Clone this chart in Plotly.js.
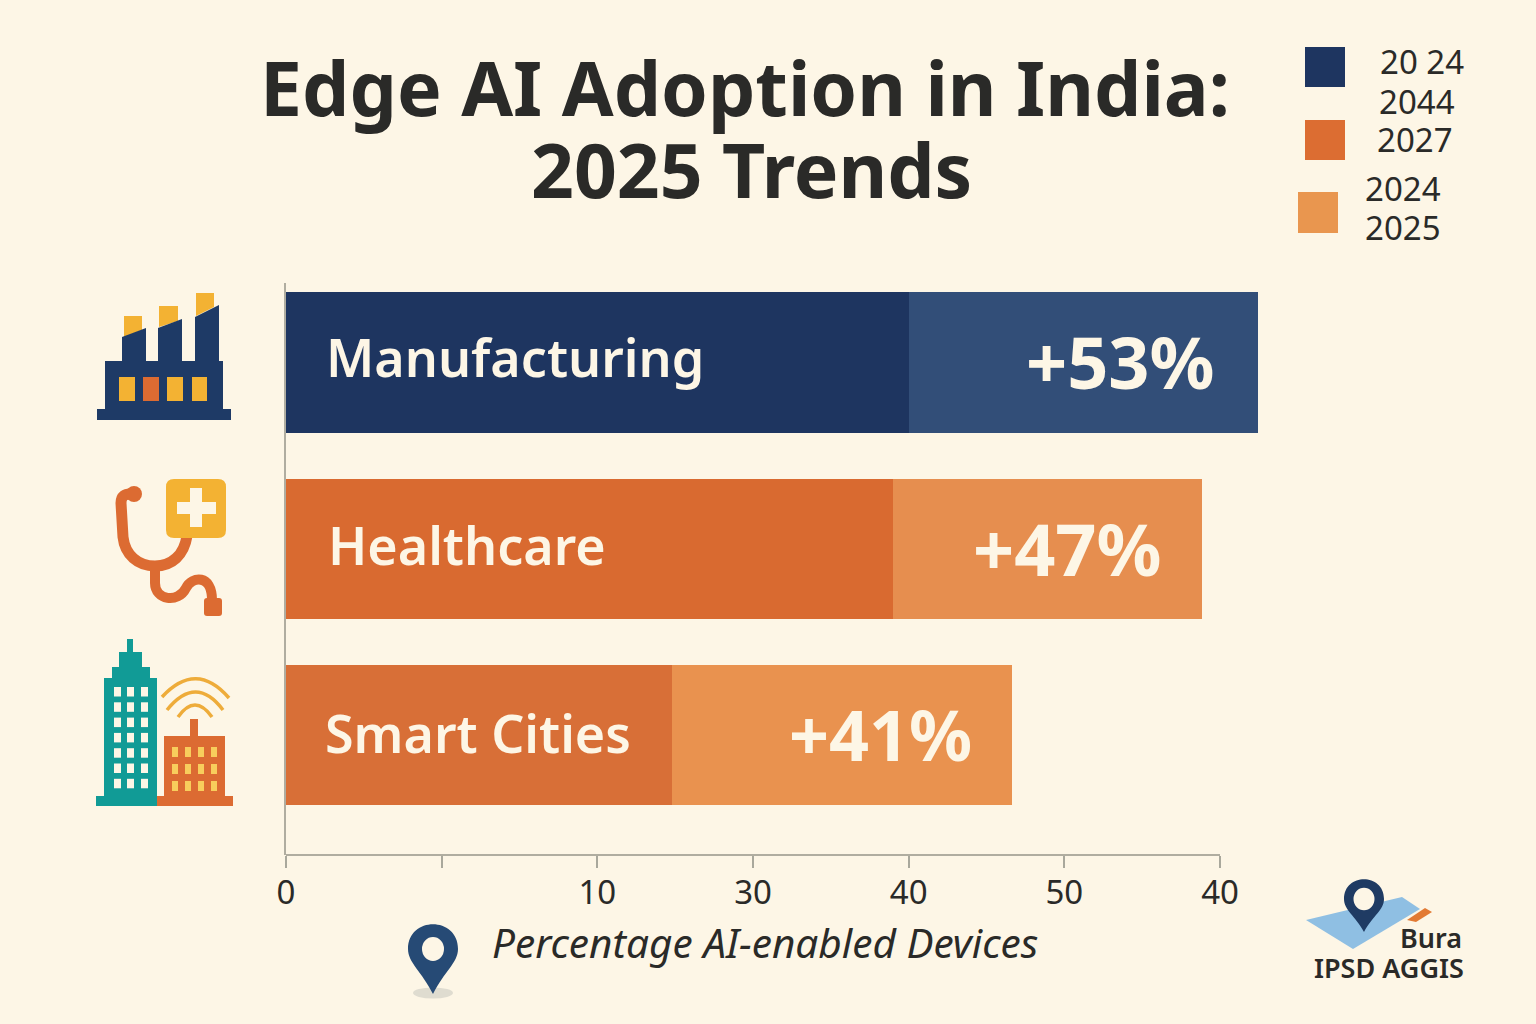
<!DOCTYPE html>
<html><head><meta charset="utf-8">
<script src="https://cdn.plot.ly/plotly-3.0.1.min.js"></script>
<style>html,body{margin:0;padding:0;background:#fdf6e6}#c{width:1536px;height:1024px}</style>
</head><body><div id="c"></div>
<script>
const categories = ["Manufacturing","Healthcare","Smart Cities"];
const baseValues = [40.05, 39.0, 24.8];
const gainValues = [22.4, 19.85, 21.85];
const gainLabels = ["+53%","+47%","+41%"];
const baseColors = ["#1e3560","#d96a30","#d86f37"];
const gainColors = ["#324e78","#e68e4f","#e9924f"];
const tickValues = [0,10,20,30,40,50,60];
const tickLabels = ["0","","10","30","40","50","40"];
const legendLabels = ["20 24","2044","2027","2024","2025"];
const titleLines = ["Edge AI Adoption in India:","2025 Trends"];
const axisTitle = "Percentage AI-enabled Devices";

const L=286,R=1267,T=283,B=855;
const PX_PER_UNIT=934/60;
const X=x=>(x-L)/(R-L), Y=y=>(B-y)/(B-T);
const BG="#fdf6e6",NAVY="#1e3a66",ORANGE="#dc6b32",YEL="#f3b233",TEAL="#119b96",INK="#2a2a28";
const FONT="Noto Sans, sans-serif";
const base={xref:"paper",yref:"paper",layer:"above"};
const shapes=[];
const poly=(pts,c)=>shapes.push({...base,type:"path",path:"M"+pts.map(p=>X(p[0])+","+Y(p[1])).join("L")+"Z",fillcolor:c,line:{width:0}});
const rect=(x0,y0,x1,y1,c)=>shapes.push({...base,type:"rect",x0:X(x0),x1:X(x1),y0:Y(y0),y1:Y(y1),fillcolor:c,line:{width:0}});
const ell=(cx,cy,rx,ry,c)=>shapes.push({...base,type:"circle",x0:X(cx-rx),x1:X(cx+rx),y0:Y(cy-ry),y1:Y(cy+ry),fillcolor:c,line:{width:0}});
const seg=segs=>segs.map(s=>s[0]+s.slice(1).map((v,i)=>i%2?Y(v):X(v)).reduce((a,v,i)=>a+(i?(i%2?",":" "):"")+v,"")).join(" ");
const stroke=(segs,c,w)=>shapes.push({...base,type:"path",path:seg(segs),line:{color:c,width:w}});
const fillPath=(segs,c)=>shapes.push({...base,type:"path",path:seg(segs)+" Z",fillcolor:c,line:{width:0}});
const round=(x0,y0,x1,y1,r,c)=>fillPath([["M",x0+r,y0],["L",x1-r,y0],["Q",x1,y0,x1,y0+r],["L",x1,y1-r],["Q",x1,y1,x1-r,y1],["L",x0+r,y1],["Q",x0,y1,x0,y1-r],["L",x0,y0+r],["Q",x0,y0,x0+r,y0]],c);
const pin=(cx,cy,r,tip,hr,c,hc)=>{
  fillPath([["M",cx,tip],["C",cx-r*0.45,tip-(tip-cy)*0.5,cx-r,cy+r*0.55,cx-r,cy],["C",cx-r,cy-r*1.32,cx+r,cy-r*1.32,cx+r,cy],["C",cx+r,cy+r*0.55,cx+r*0.45,tip-(tip-cy)*0.5,cx,tip]],c);
  ell(cx,cy,hr,hr*1.08,hc);
};
// x axis baseline, stops at the last tick as in the reference
shapes.push({type:"line",xref:"x",yref:"paper",x0:0,x1:60,y0:0,y1:0,line:{color:"#b0ada0",width:2},layer:"above"});
// factory icon
[[[124,316],[142,316],[142,330],[124,337]],[[159,306],[178,306],[178,321],[159,327]],[[196,293],[214,293],[214,307],[196,316]]].forEach(p=>poly(p,YEL));
[[[122,337],[146,328],[146,362],[122,362]],[[158,328],[182,319],[182,362],[158,362]],[[195,317],[219,305],[219,362],[195,362]]].forEach(p=>poly(p,NAVY));
rect(105,361,223,410,NAVY); rect(97,409,231,420,NAVY);
[[119,135,YEL],[143,159,ORANGE],[167,183,YEL],[192,207,YEL]].forEach(w=>rect(w[0],377,w[1],401,w[2]));
// stethoscope icon
stroke([["M",132,494],["Q",121,493,121,503],["L",123,537],["C",125,555,138,566,155,566],["C",172,566,184,555,187,536]],ORANGE,11);
rect(150,566,160,576,ORANGE);
stroke([["M",155,572],["L",155,583],["C",155,600,178,604,186,588],["C",192,576,212,574,212,600]],ORANGE,10);
ell(134,494,8,8,ORANGE);
round(204,598,222,616,3,ORANGE);
round(166,479,226,538,8,YEL);
rect(190,488,202,527,BG); rect(177,502,216,514,BG);
// city icon
rect(96,796,157,806,TEAL); rect(104,678,157,797,TEAL); rect(112,667,150,679,TEAL); rect(119,652,142,668,TEAL); rect(127,639,133,653,TEAL);
[114,127,141].forEach(x=>{for(let r=0;r<7;r++)rect(x,687+r*15.3,x+7,696.5+r*15.3,BG);});
rect(157,796,233,806,ORANGE); rect(164,736,225,797,ORANGE); rect(190,719,198,737,ORANGE);
[172,185,198,211].forEach(x=>[747,764,781].forEach(y=>rect(x,y,x+6,y+10,"#f8cd5c")));
stroke([["M",162,697],["Q",196,660,229,698]],"#eeac3a",3.5);
stroke([["M",167,710],["Q",196,674,223,710]],"#eeac3a",3.5);
stroke([["M",178,717],["Q",195,693,212,717]],"#eeac3a",3.5);
// legend swatches
rect(1305,47,1345,87,"#1e3560"); rect(1305,120,1345,160,"#dc6d32"); rect(1298,192,1338,233,"#e9964f");
// bottom pin
ell(433,993,20,5.5,"#dfdcd0");
pin(433,949,25,994,11,"#264a75",BG);
// logo
poly([[1306,920],[1402,897],[1420,909],[1353,949]],"#8fbfe3");
poly([[1407,920],[1425,908],[1432,912],[1416,922]],"#e27a33");
pin(1364,899,20,932,10.5,"#1f3b63",BG);

const ann=(text,x,y,size,o={})=>Object.assign({text,xref:"paper",yref:"paper",x:X(x),y:Y(y),xanchor:"left",yanchor:"middle",showarrow:false,font:{family:FONT,size,color:INK}},o);
const annotations=[];
annotations.push(ann(titleLines[1],751,169,75,{xanchor:"center",font:{family:FONT,size:75,color:INK,weight:700}}));
const legX=[1378,1377,1375,1363,1363],legY=[61,101,139,188,227];
legendLabels.forEach((t,i)=>annotations.push(ann(t,legX[i],legY[i],33)));
annotations.push(ann(axisTitle,765,942,40.5,{xanchor:"center",font:{family:FONT,size:40.5,color:INK,style:"italic"}}));
annotations.push(ann("Bura",1464,938,27,{xanchor:"right",font:{family:FONT,size:27,color:INK,weight:600}}));
annotations.push(ann("IPSD AGGIS",1466,967,27,{xanchor:"right",font:{family:FONT,size:27,color:INK,weight:600}}));
const labelShift=[38,40,37],labelY=[-6,-4,-3],gainShift=[-41,-38,-38],gainY=[-1,-1,-1],gainSize=[72,72,70];
const tot=baseValues.map((v,i)=>v+gainValues[i]);
categories.forEach((c,i)=>{
  annotations.push({text:c,x:0,y:c,xref:"x",yref:"y",xanchor:"left",yanchor:"middle",xshift:labelShift[i],yshift:-labelY[i],showarrow:false,font:{family:FONT,size:52,color:"#fdf6e6",weight:600}});
  annotations.push({text:gainLabels[i],x:tot[i],y:c,xref:"x",yref:"y",xanchor:"right",yanchor:"middle",xshift:gainShift[i],yshift:-gainY[i],showarrow:false,font:{family:FONT,size:gainSize[i],color:"#fdf6e6",weight:700}});
});
const data=[
 {type:"bar",orientation:"h",y:categories,x:baseValues,marker:{color:baseColors,line:{width:0}},name:"Base",hoverinfo:"x+y"},
 {type:"bar",orientation:"h",y:categories,x:gainValues,marker:{color:gainColors,line:{width:0}},name:"Gain",hoverinfo:"x+y"}
];
const layout={
 width:1536,height:1024,paper_bgcolor:BG,plot_bgcolor:BG,showlegend:false,barmode:"stack",bargap:0.247,
 margin:{l:L,r:1536-R,t:T,b:1024-B,pad:0},
 title:{text:titleLines[0],font:{family:FONT,size:75,color:INK,weight:700},x:745/1536,xanchor:"center",y:1-90/1024,yanchor:"middle"},
 xaxis:{range:[0,(R-L)/PX_PER_UNIT],tickvals:tickValues,ticktext:tickLabels,ticks:"outside",ticklen:12,tickwidth:1.5,tickcolor:"#a9a89c",showline:false,showgrid:false,zeroline:false,ticklabelstandoff:-4,tickfont:{family:FONT,size:33,color:INK}},
 yaxis:{type:"category",categoryorder:"array",categoryarray:categories,range:[2.643,-0.426],showline:true,linecolor:"#b0ada0",linewidth:2,showticklabels:false,ticks:"",showgrid:false,zeroline:false},
 shapes,annotations
};
Plotly.newPlot("c",data,layout,{displayModeBar:false,responsive:false});
</script></body></html>
